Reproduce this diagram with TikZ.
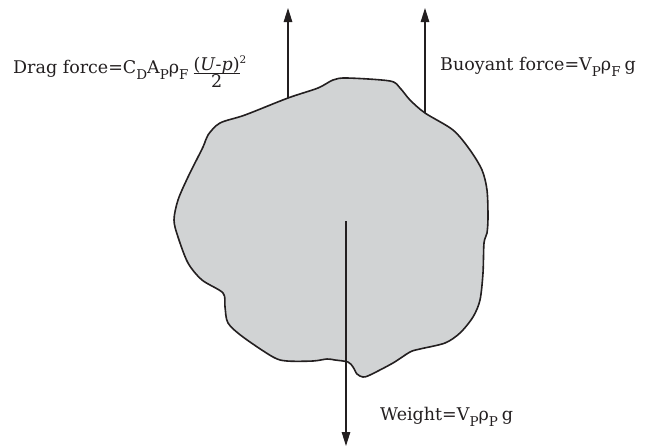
\documentclass[tikz,border=0pt]{standalone}
\usepackage{fontspec}
\setmainfont{DejaVu Serif}
\usetikzlibrary{arrows.meta}
\definecolor{blobgray}{RGB}{209,211,212}
\definecolor{ink}{RGB}{35,31,32}
\newcommand\sbs[1]{\raisebox{-6.5pt}{\fontsize{13.5}{14}\selectfont #1}}
\newsavebox\fracnumbox
\newcommand\dragfrac{%
  \sbox\fracnumbox{(\textit{U}-\textit{p})}%
  \rlap{\raisebox{3pt}{\usebox\fracnumbox}}%
  \rlap{\rule[-0.3pt]{\wd\fracnumbox}{0.6pt}}%
  \makebox[\wd\fracnumbox]{\raisebox{-14pt}{2}}%
  \raisebox{10pt}{\fontsize{10.5}{11}\selectfont 2}}
\tikzset{
  force/.style={ink, line width=1.2pt, -{Triangle[length=14pt,width=8.5pt]}},
  lbl/.style={inner sep=0pt, anchor=base west, text=ink, font=\fontsize{17.5}{19}\selectfont},
  blob/.style={draw=ink, fill=blobgray, line width=1.6pt, line join=round}
}
\begin{document}
\begin{tikzpicture}[x=1pt, y=-1pt]
\useasboundingbox (0,0) rectangle (662,447);
\draw[blob] plot[smooth cycle, tension=0.5] coordinates {
 (203,147) (208,135) (220,123) (245,115) (288,98) (318,88) (333,80) (347,78)
 (390,81) (400,88) (410,100) (425,113) (453,130) (470,150) (482,170) (487,190)
 (488,217) (487,233) (484,243) (483,273) (480,300) (473,317) (460,333) (445,343)
 (420,349) (410,352) (393,363) (370,375) (363,377) (357,374) (353,367) (348,362)
 (335,360) (327,359) (313,361) (287,361) (273,357) (243,337) (228,323) (225,307)
 (223,293) (202,280) (188,263) (178,237) (174,220) (178,200) (188,177)};
\coordinate (dragbase) at (288,98);
\coordinate (dragtip) at (288,8);
\coordinate (buoybase) at (425,113);
\coordinate (buoytip) at (425,8);
\coordinate (wbase) at (346,221);
\coordinate (wtip) at (346,446);
\draw[force] (dragbase) -- (dragtip);
\draw[force] (buoybase) -- (buoytip);
\draw[force] (wbase) -- (wtip);
\node[lbl] (drag) at (13,73) {Drag force=C\sbs{D}A\sbs{P}ρ\sbs{F}\kern5pt\dragfrac};
\node[lbl] (buoy) at (440,70) {Buoyant force=V\sbs{P}ρ\sbs{F}\kern4pt g};
\node[lbl] (weight) at (380,420) {Weight=V\sbs{P}ρ\sbs{P}\kern4pt g};
\end{tikzpicture}
\end{document}
